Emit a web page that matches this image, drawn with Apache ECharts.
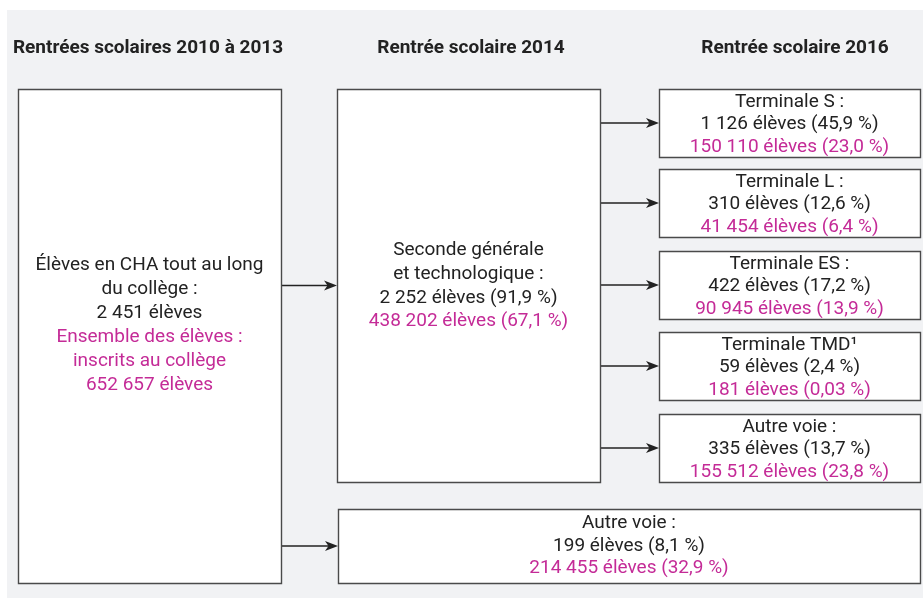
<!DOCTYPE html>
<html><head><meta charset="utf-8">
<script src="https://cdn.jsdelivr.net/npm/echarts@6/dist/echarts.min.js"></script>
<style>html,body{margin:0;padding:0;background:#fff}#c{width:923px;height:608px}</style>
</head><body><div id="c"></div>
<script>
// ---------- DATA ----------
const columnTitles = ['Rentrées scolaires 2010 à 2013', 'Rentrée scolaire 2014', 'Rentrée scolaire 2016'];
const nodeLabels = [
  'Élèves en CHA tout au long\ndu collège :',
  'Seconde générale\net technologique :',
  'Terminale S :', 'Terminale L :', 'Terminale ES :', 'Terminale TMD¹', 'Autre voie :',
  'Autre voie :'
];
const chaCounts = [2451, 2252, 1126, 310, 422, 59, 335, 199];
const chaShares = [null, 91.9, 45.9, 12.6, 17.2, 2.4, 13.7, 8.1];
const allCounts = [652657, 438202, 150110, 41454, 90945, 181, 155512, 214455];
const allShares = [null, 67.1, 23.0, 6.4, 13.9, 0.03, 23.8, 32.9];
const allStudentsLabel = 'Ensemble des élèves :\ninscrits au collège';
const flows = [[0, 1], [0, 7], [1, 2], [1, 3], [1, 4], [1, 5], [1, 6]];

// ---------- LAYOUT (diagram space, 923 x 608) ----------
const PANEL = [7, 10, 923, 598];
const TITLE_Y = 48;
const TITLE_X = [148, 471, 795];
const BOXES = [
  [18, 89, 281, 583],
  [337, 89, 600, 482],
  [659, 89, 920, 157],
  [659, 169, 920, 237],
  [659, 251, 920, 319],
  [659, 332, 920, 400],
  [659, 414, 920, 482],
  [338, 509, 920, 583]
];
const LINE_H = [24, 23.7, 22.5, 22.5, 22.5, 22.5, 22.5, 22.5];
const TEXT_DY = [-10.5, 0.5, 1.5, 1.5, 1.5, 1.5, 1.5, 0];
const INK = '#222222';
const MAGENTA = '#c42b97';
const FONT = 'Roboto, "Noto Sans", sans-serif';

function fmtInt(n) { return String(n).replace(/\B(?=(\d{3})+(?!\d))/g, ' '); }
function fmtPct(p) { return (p < 0.1 ? p.toFixed(2) : p.toFixed(1)).replace('.', ',') + ' %'; }

function nodeLines(i) {
  const black = nodeLabels[i].split('\n');
  black.push(fmtInt(chaCounts[i]) + ' élèves' + (chaShares[i] != null ? ' (' + fmtPct(chaShares[i]) + ')' : ''));
  const mag = [];
  if (allShares[i] == null) {
    allStudentsLabel.split('\n').forEach(l => mag.push(l));
    mag.push(fmtInt(allCounts[i]) + ' élèves');
  } else {
    mag.push(fmtInt(allCounts[i]) + ' élèves (' + fmtPct(allShares[i]) + ')');
  }
  return { black, mag };
}

const chart = echarts.init(document.getElementById('c'), null, { renderer: 'canvas' });
chart.setOption({
  backgroundColor: '#ffffff',
  animation: false,
  grid: { left: 0, right: 0, top: 0, bottom: 0 },
  xAxis: { type: 'value', min: 0, max: 923, show: false },
  yAxis: { type: 'value', min: 0, max: 608, inverse: true, show: false },
  series: [
    {
      type: 'custom', clip: false, z: 1,
      data: [[0]],
      renderItem: function (params, api) {
        const p0 = api.coord([PANEL[0], PANEL[1]]);
        const p1 = api.coord([PANEL[2], PANEL[3]]);
        return { type: 'rect', shape: { x: p0[0], y: p0[1], width: p1[0] - p0[0], height: p1[1] - p0[1] }, style: { fill: '#f1f2f4' } };
      }
    },
    {
      type: 'custom', clip: false, z: 2,
      data: columnTitles.map((t, i) => [i]),
      renderItem: function (params, api) {
        const i = params.dataIndex;
        const p = api.coord([TITLE_X[i], TITLE_Y]);
        return { type: 'text', x: p[0], y: p[1], style: { text: columnTitles[i], fill: INK, font: 'bold 19px ' + FONT, align: 'center', verticalAlign: 'middle' } };
      }
    },
    {
      type: 'custom', clip: false, z: 3,
      data: flows.map((f, i) => [i]),
      renderItem: function (params, api) {
        const f = flows[params.dataIndex];
        const s = BOXES[f[0]], t = BOXES[f[1]];
        const yc = (t[1] + t[3]) / 2;
        const a = api.coord([s[2], yc]);
        const b = api.coord([t[0], yc]);
        const L = 13, W = 5;
        return {
          type: 'group', children: [
            { type: 'line', shape: { x1: a[0], y1: a[1], x2: b[0] - 8, y2: b[1] }, style: { stroke: INK, lineWidth: 1.3 } },
            { type: 'polygon', shape: { points: [[b[0], b[1]], [b[0] - L, b[1] - W], [b[0] - L + 3.5, b[1]], [b[0] - L, b[1] + W]] }, style: { fill: INK } }
          ]
        };
      }
    },
    {
      type: 'custom', clip: false, z: 4,
      data: BOXES.map((b, i) => [i]),
      renderItem: function (params, api) {
        const i = params.dataIndex;
        const bx = BOXES[i];
        const p0 = api.coord([bx[0], bx[1]]);
        const p1 = api.coord([bx[2], bx[3]]);
        const children = [
          { type: 'rect', shape: { x: p0[0] + 0.5, y: p0[1] + 0.5, width: p1[0] - p0[0], height: p1[1] - p0[1] }, style: { fill: '#ffffff', stroke: '#4a4a4a', lineWidth: 1.4 } }
        ];
        const ln = nodeLines(i);
        const all = ln.black.map(t => [t, INK]).concat(ln.mag.map(t => [t, MAGENTA]));
        const n = all.length;
        const cx = (bx[0] + bx[2]) / 2;
        const cy = (bx[1] + bx[3]) / 2 + TEXT_DY[i];
        all.forEach((l, k) => {
          const p = api.coord([cx, cy + (k - (n - 1) / 2) * LINE_H[i]]);
          children.push({ type: 'text', x: p[0], y: p[1], style: { text: l[0], fill: l[1], font: '19px ' + FONT, align: 'center', verticalAlign: 'middle' } });
        });
        return { type: 'group', children };
      }
    }
  ]
});
</script>
</body></html>
